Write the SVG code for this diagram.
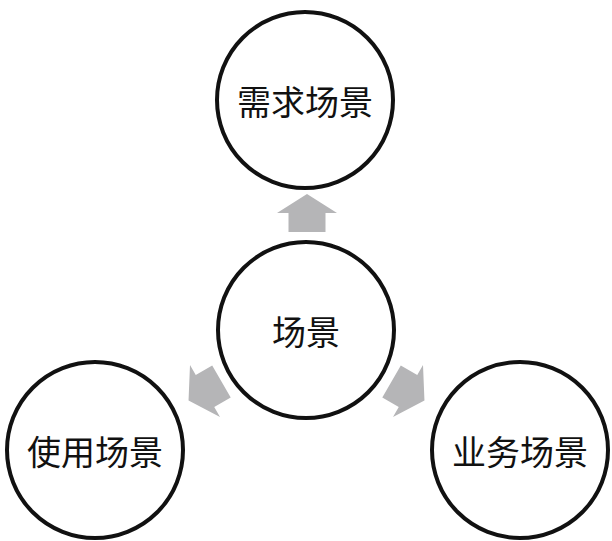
<svg xmlns="http://www.w3.org/2000/svg" xmlns:xlink="http://www.w3.org/1999/xlink" width="612" height="541" viewBox="0 0 612 541">
<style>
.n{fill:#fff;stroke:#111;stroke-width:4}
.t{font-family:"Noto Sans CJK SC","Liberation Serif",serif;font-size:34px;fill:#111;text-anchor:middle;dominant-baseline:central}
.a{fill:#b5b5b7}
</style>
<defs><path id="arr" d="M0,-19 L30,0 L18.5,0 L18.5,19 L-18.5,19 L-18.5,0 L-30,0 Z"/></defs>
<rect width="612" height="541" fill="#fff"/>
<g id="connectors">
<use xlink:href="#arr" class="a" transform="translate(307,213)"/>
<use xlink:href="#arr" class="a" transform="translate(205,391) rotate(-120)"/>
<use xlink:href="#arr" class="a" transform="translate(408,391) rotate(120)"/>
</g>
<g id="demand"><circle class="n" cx="305" cy="100" r="88"/><text class="t" x="305" y="100">需求场景</text></g>
<g id="scene"><circle class="n" cx="306" cy="330" r="88"/><text class="t" x="306" y="330">场景</text></g>
<g id="usage"><circle class="n" cx="95" cy="450" r="88"/><text class="t" x="95" y="450">使用场景</text></g>
<g id="business"><circle class="n" cx="520" cy="450" r="88"/><text class="t" x="520" y="450">业务场景</text></g>
</svg>
